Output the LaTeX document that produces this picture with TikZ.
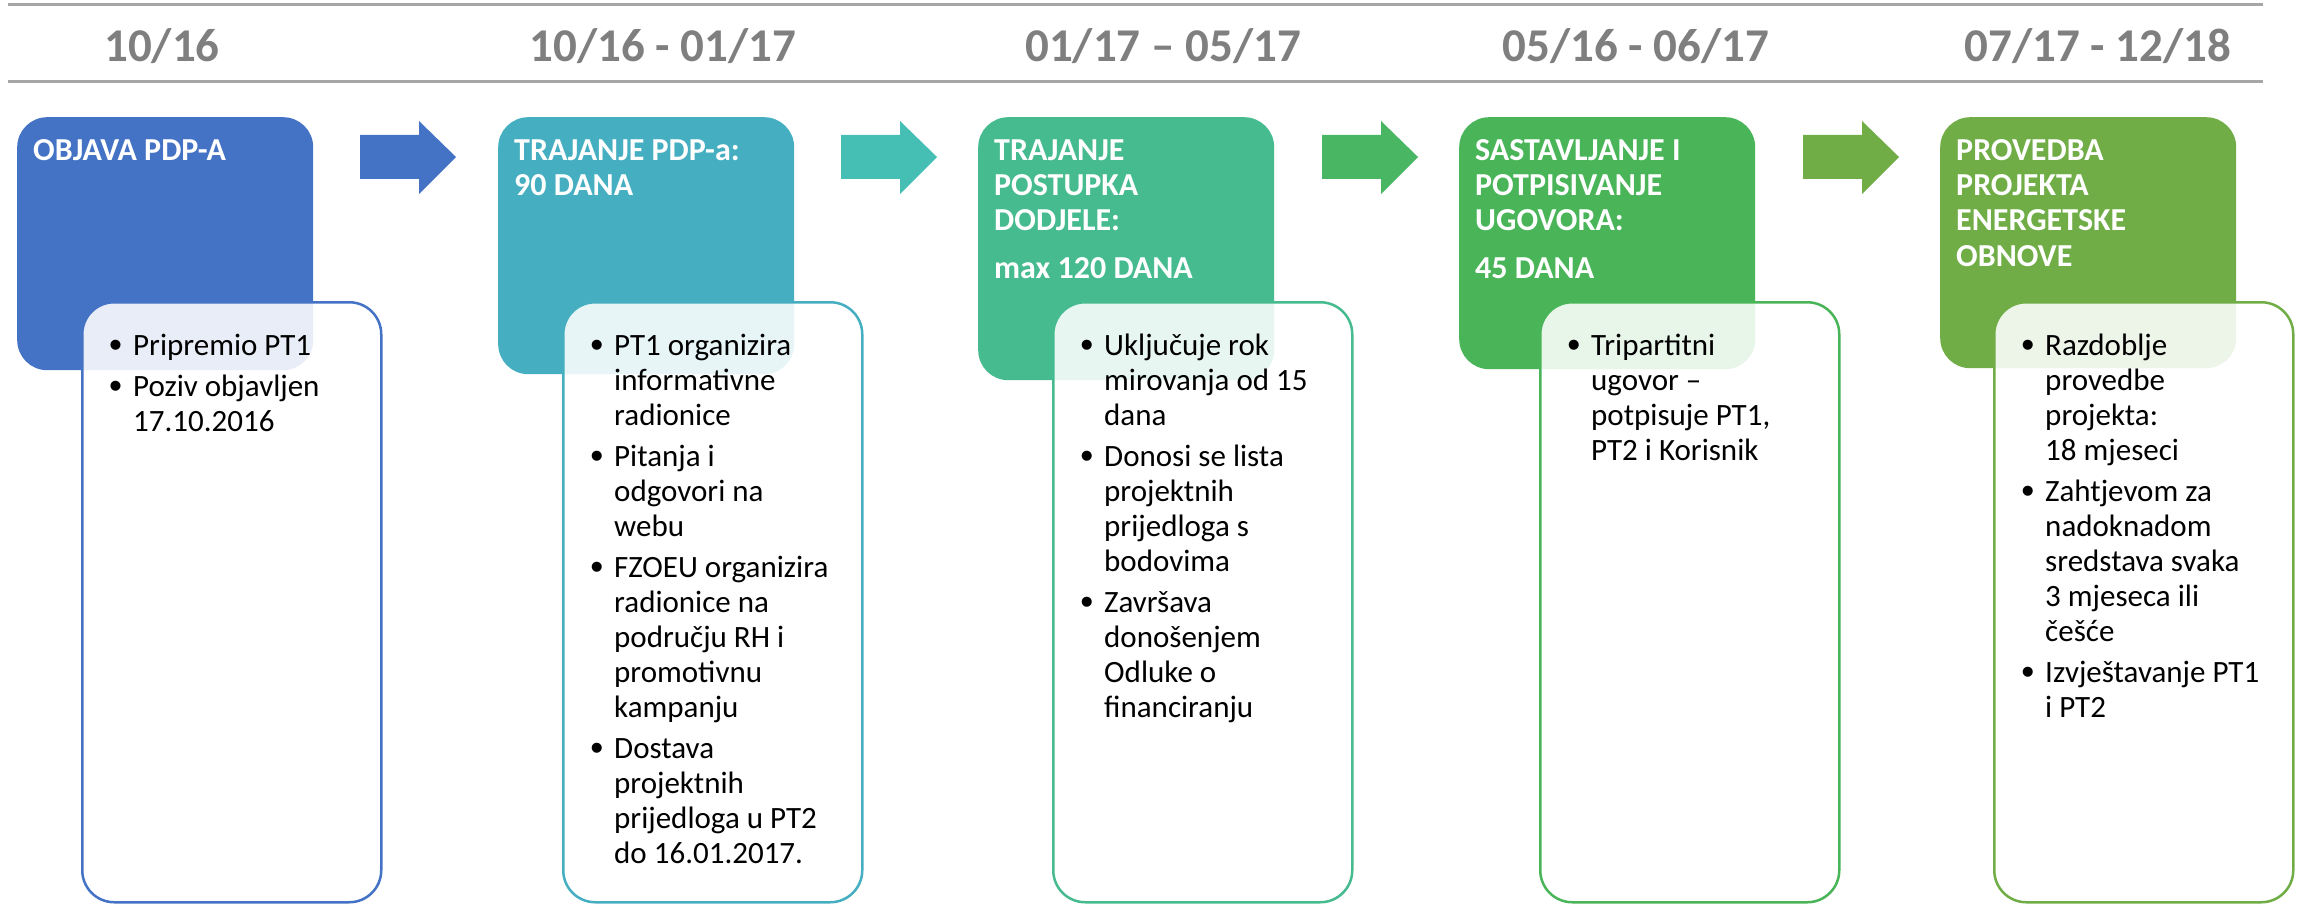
\documentclass[tikz,border=0pt]{standalone}
\usepackage{fontspec}
\setmainfont{Carlito}
\newfontfamily\bulletfont{Liberation Sans}
\usepackage{tikz}
\usetikzlibrary{positioning, calc}

\definecolor{cBlue}{HTML}{4472C4}
\definecolor{cTeal}{HTML}{45AFC1}
\definecolor{cSea}{HTML}{46BB8F}
\definecolor{cGreen}{HTML}{49B558}
\definecolor{cLime}{HTML}{70AD47}
\definecolor{aTeal}{HTML}{45BFB4}
\definecolor{aGreen}{HTML}{49B664}
\definecolor{rulegray}{HTML}{A6A6A6}
\definecolor{dategray}{HTML}{7F7F7F}

\tikzstyle{phase} = [rectangle, rounded corners=30pt, minimum width=296pt, anchor=north west, inner sep=0pt]
\tikzstyle{detail} = [rectangle, rounded corners=32pt, line width=2.5pt, fill=white, fill opacity=0.88, minimum width=299pt, minimum height=600pt, anchor=north west, inner sep=0pt]
\tikzstyle{datelabel} = [font=\fontsize{47}{50}\selectfont\bfseries, text=dategray, anchor=base, inner sep=0pt]
\tikzstyle{title} = [anchor=base west, inner sep=0pt, text=white, font=\fontsize{32}{35}\selectfont\bfseries]
\tikzstyle{bullets} = [anchor=base west, inner sep=0pt, text=black, font=\fontsize{31}{35}\selectfont]
\tikzstyle{rule} = [rulegray, line width=3pt]

\newcommand{\bitem}{\leavevmode\llap{{\bulletfont\fontsize{37}{35}\selectfont\raisebox{-2pt}{•}}\hspace{11pt}}}

\begin{document}
\begin{tikzpicture}[x=1pt, y=-1pt]
\useasboundingbox (0,0) rectangle (2301,904);

% Timeline header
\draw [rule] (8,5) -- (2263,5);
\draw [rule] (8,82) -- (2263,82);

\node (d1) [datelabel] at (162,62) {10/16};
\node (d2) [datelabel] at (663,62) {10/16 - 01/17};
\node (d3) [datelabel] at (1163,62) {01/17 – 05/17};
\node (d4) [datelabel] at (1636,62) {05/16 - 06/17};
\node (d5) [datelabel] at (2098,62) {07/17 - 12/18};

% Block arrows between phases
\foreach \x/\c in {360/cBlue, 841/aTeal, 1322/aGreen, 1803/cLime} {
  \coordinate (a) at (\x,157);
  \fill [\c] ($(a)+(0,-22)$) -- ++(59,0) -- ++(0,-14) -- ++(37,36) -- ++(-37,37) -- ++(0,-15) -- ++(-59,0) -- cycle;
}

% Phase 1
\node (ph1) [phase, fill=cBlue, minimum height=253pt] at (17,117) {};
\node (det1) [detail, draw=cBlue] at (81,301) {};
\node (t1) [title] at ($(ph1.north west)+(16,44)$) {\parbox[t]{280pt}{\raggedright OBJAVA PDP-A}};
\node (b1) [bullets] at ($(det1.north west)+(52,54)$) {\parbox[t]{240pt}{\raggedright
  \bitem Pripremio PT1\\[6pt]
  \bitem Poziv objavljen\\17.10.2016}};

% Phase 2
\node (ph2) [phase, fill=cTeal, minimum height=257pt] at (498,117) {};
\node (det2) [detail, draw=cTeal] at (562,301) {};
\node (t2) [title] at ($(ph2.north west)+(16,44)$) {\parbox[t]{280pt}{\raggedright TRAJANJE PDP-a:\\90 DANA}};
\node (b2) [bullets] at ($(det2.north west)+(52,54)$) {\parbox[t]{240pt}{\raggedright
  \bitem PT1 organizira\\informativne\\radionice\\[6pt]
  \bitem Pitanja i\\odgovori na\\webu\\[6pt]
  \bitem FZOEU organizira\\radionice na\\području RH i\\promotivnu\\kampanju\\[6pt]
  \bitem Dostava\\projektnih\\prijedloga u PT2\\do 16.01.2017.}};

% Phase 3
\node (ph3) [phase, fill=cSea, minimum height=263pt] at (978,117) {};
\node (det3) [detail, draw=cSea] at (1052,301) {};
\node (t3) [title] at ($(ph3.north west)+(16,44)$) {\parbox[t]{280pt}{\raggedright TRAJANJE\\POSTUPKA\\DODJELE:\\[12pt]max 120 DANA}};
\node (b3) [bullets] at ($(det3.north west)+(52,54)$) {\parbox[t]{240pt}{\raggedright
  \bitem Uključuje rok\\mirovanja od 15\\dana\\[6pt]
  \bitem Donosi se lista\\projektnih\\prijedloga s\\bodovima\\[6pt]
  \bitem Završava\\donošenjem\\Odluke o\\financiranju}};

% Phase 4
\node (ph4) [phase, fill=cGreen, minimum height=252pt] at (1459,117) {};
\node (det4) [detail, draw=cGreen] at (1539,301) {};
\node (t4) [title] at ($(ph4.north west)+(16,44)$) {\parbox[t]{280pt}{\raggedright SASTAVLJANJE I\\POTPISIVANJE\\UGOVORA:\\[12pt]45 DANA}};
\node (b4) [bullets] at ($(det4.north west)+(52,54)$) {\parbox[t]{240pt}{\raggedright
  \bitem Tripartitni\\ugovor –\\potpisuje PT1,\\PT2 i Korisnik}};

% Phase 5
\node (ph5) [phase, fill=cLime, minimum height=251pt] at (1940,117) {};
\node (det5) [detail, draw=cLime] at (1993,301) {};
\node (t5) [title] at ($(ph5.north west)+(16,44)$) {\parbox[t]{280pt}{\raggedright PROVEDBA\\PROJEKTA\\ENERGETSKE\\OBNOVE}};
\node (b5) [bullets] at ($(det5.north west)+(52,54)$) {\parbox[t]{240pt}{\raggedright
  \bitem Razdoblje\\provedbe\\projekta:\\18 mjeseci\\[6pt]
  \bitem Zahtjevom za\\nadoknadom\\sredstava svaka\\3 mjeseca ili\\češće\\[6pt]
  \bitem Izvještavanje PT1\\i PT2}};

\end{tikzpicture}
\end{document}
